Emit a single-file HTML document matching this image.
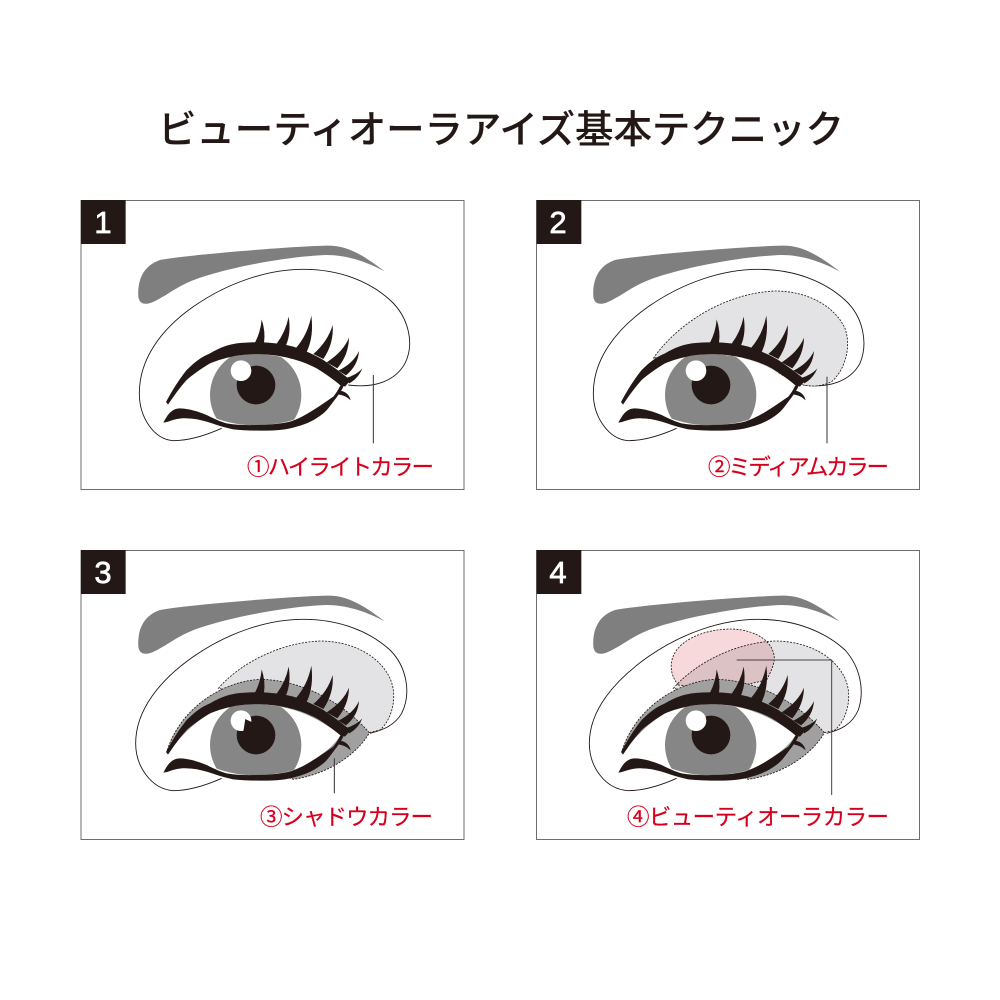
<!DOCTYPE html>
<html lang="ja"><head><meta charset="utf-8"><title>ビューティオーラアイズ基本テクニック</title>
<style>html,body{margin:0;padding:0;background:#fff}svg{display:block}
.t{font-family:"Liberation Sans","Noto Sans CJK JP",sans-serif}
.l{font-size:22.500px;fill:#d6001c;stroke:#d6001c;stroke-width:.2}.n{font-size:31px;fill:#fff;stroke:#fff;stroke-width:.7;text-anchor:middle}
</style></head><body>
<svg width="1000" height="1000" viewBox="0 0 1000 1000" xmlns="http://www.w3.org/2000/svg">
<defs>
<clipPath id="open"><path d="M260 613C300 560 340 520 390 490C440 465 500 462 550 463C640 470 710 500 782 555C760 590 730 610 700 630C650 665 590 675 530 675C480 678 430 665 380 645C340 630 320 625 300 625L250 668Z"/></clipPath>
<g id="brow"><path d="M175 290C172 240 190 197 240 180C320 165 620 140 740 137C800 135 850 165 915 215C860 185 800 165 740 165C640 168 480 195 370 230C300 252 270 280 240 295C215 310 180 325 175 290Z" fill="#7f7f7f"/></g>
<g id="eye">
<path d="M260 613C300 560 340 520 390 490C440 465 500 462 550 463C640 470 710 500 782 555C760 590 730 610 700 630C650 665 590 675 530 675C480 678 430 665 380 645C340 630 320 625 300 625L250 668Z" fill="#fff"/>
<g clip-path="url(#open)"><circle cx="527" cy="585" r="137" fill="#868686"/></g>
<circle cx="528" cy="555" r="58" fill="#231815"/>
<circle cx="483" cy="512" r="31" fill="#fff"/>
<g fill="#231815">
<path d="M258 606C280 565 300 535 320 510C345 485 365 470 390 460C420 442 445 434 470 430C500 427 525 426 550 427C585 429 615 433 640 440C675 452 705 465 730 480C755 497 780 515 805 535L790 560L780 555C760 538 735 520 710 505C685 492 660 482 630 475C605 468 575 464 550 463C520 462 495 463 470 467C440 473 415 480 390 490C365 505 340 522 320 540C300 562 280 590 264 614Z"/>
<path d="M770 515L812 540L795 560L778 552Z"/>
<path d="M250 668C260 650 272 625 300 625C330 626 355 635 380 645C400 655 420 665 440 670C470 675 500 676 530 675C565 675 600 672 630 665C655 657 680 643 700 630C725 615 745 600 760 590C770 578 776 566 782 555L790 560C785 572 778 580 770 592C755 610 745 628 730 640C705 660 680 672 650 680C620 690 585 692 550 692C520 692 490 691 460 688C430 682 405 673 380 665C360 659 340 655 320 655C300 654 285 658 270 663C262 666 256 667 250 668Z"/>
<path d="M525 428Q542 395 545 358Q557 395 552 428Z"/>
<path d="M590 431Q617 395 626 350Q634 400 618 436Z"/>
<path d="M647 445Q683 405 694 347Q702 410 680 456Z"/>
<path d="M700 462Q743 425 758 375Q762 430 730 477Z"/>
<path d="M740 487Q790 455 807 413Q806 465 772 505Z"/>
<path d="M775 512Q820 490 837 453Q834 497 798 526Z"/>
<path d="M795 535Q830 525 847 505Q835 535 808 550Z"/>
<path d="M778 572C798 574 808 585 812 601C800 590 790 585 773 583Z"/>
</g>
</g>
<path id="med" d="M355 475C420 380 560 280 720 273C820 273 900 320 930 385C950 440 930 510 890 545C860 560 830 560 805 555L780 540L520 440Z"/>
<path id="sh" d="M262 600C300 480 420 395 540 388C680 390 800 470 868 548C840 600 760 670 640 688L520 640Z"/>
</defs>

<text class="t" x="158" y="143" font-size="38.500" font-weight="500" fill="#231815" stroke="#231815" stroke-width=".12" textLength="686" lengthAdjust="spacing">ビューティオーラアイズ基本テクニック</text>

<g fill="#fff" stroke="#6e6e6e" stroke-width="1">
<rect x="81" y="200.500" width="383" height="289"/><rect x="536.500" y="200.500" width="383" height="289"/>
<rect x="81" y="550.500" width="383" height="289"/><rect x="536.500" y="550.500" width="383" height="289"/>
</g>

<!-- Panel 1 -->
<g transform="translate(80 200) scale(.33333)">
<rect x="3" y="0" width="134" height="132" fill="#231815"/>
<use href="#brow"/>
<path d="M425 685C380 705 330 722 280 722C220 718 178 650 178 580C178 480 240 390 340 320C440 250 560 208 670 208C780 208 870 245 930 300C985 350 1005 430 975 490C945 545 880 565 805 555" fill="none" stroke="#231815" stroke-width="2.700"/>
<use href="#eye"/>
<path d="M880 525V730" stroke="#333" stroke-width="3" fill="none"/>
</g>
<text class="t n" x="103" y="233">1</text>
<text class="t l" x="247" y="475" textLength="187" lengthAdjust="spacing">①ハイライトカラー</text>

<!-- Panel 2 -->
<g transform="translate(535 200) scale(.33333)">
<rect x="5" y="0" width="134" height="132" fill="#231815"/>
<use href="#brow"/>
<path d="M425 685C380 705 330 722 280 722C220 718 175 650 175 580C175 480 240 390 340 320C440 250 560 208 670 208C780 208 870 245 930 300C985 350 1000 430 975 490C945 545 880 565 805 555" fill="none" stroke="#231815" stroke-width="2.700"/>
<use href="#med" fill="#e3e3e5" stroke="#231815" stroke-width="2.500" stroke-dasharray="6 4"/>
<use href="#eye"/>
<path d="M876 530V730" stroke="#333" stroke-width="3" fill="none"/>
</g>
<text class="t n" x="558" y="233">2</text>
<text class="t l" x="708" y="475" textLength="181" lengthAdjust="spacing">②ミディアムカラー</text>

<!-- Panel 3 -->
<g transform="translate(80 550) scale(.33333)">
<rect x="3" y="0" width="134" height="132" fill="#231815"/>
<use href="#brow"/>
<path d="M425 685C380 705 330 722 280 722C215 718 167 650 167 580C167 480 240 390 340 320C440 250 560 208 670 208C780 208 870 245 930 300C980 350 995 430 965 490C945 525 910 540 870 550" fill="none" stroke="#231815" stroke-width="2.700"/>
<path d="M415 415C480 340 600 278 720 273C820 273 900 320 930 385C955 440 935 510 900 540L868 548L780 540L520 440Z" fill="#e3e3e5" stroke="#231815" stroke-width="2.500" stroke-dasharray="6 4"/>
<use href="#sh" fill="#a0a0a0" stroke="#231815" stroke-width="2.500" stroke-dasharray="6 4"/>
<use href="#eye"/>
<path d="M496 507L518 518L520 545L490 545Z" fill="#231815"/>
<path d="M763 625V730" stroke="#333" stroke-width="3" fill="none"/>
</g>
<text class="t n" x="103" y="583">3</text>
<text class="t l" x="260" y="825" textLength="173" lengthAdjust="spacing">③シャドウカラー</text>

<!-- Panel 4 -->
<g transform="translate(535 550) scale(.33333)">
<rect x="5" y="0" width="134" height="132" fill="#231815"/>
<use href="#brow"/>
<path d="M425 685C380 705 330 722 280 722C210 718 163 650 163 580C163 480 240 390 340 320C440 250 560 208 670 208C780 208 870 245 930 300C975 350 990 420 970 480C950 525 915 540 875 550" fill="none" stroke="#231815" stroke-width="2.700"/>
<path d="M415 415C480 340 600 278 720 273C820 273 900 320 930 385C955 440 935 510 900 540L868 548L780 540L520 440Z" fill="#e3e3e5" stroke="#231815" stroke-width="2.500" stroke-dasharray="6 4"/>
<path d="M430 405C405 375 400 335 425 300C460 255 530 237 590 237C670 240 720 280 718 330C715 350 705 370 695 390L560 420Z" fill="#f7d9dc" stroke="#231815" stroke-width="2.500" stroke-dasharray="6 4" style="mix-blend-mode:multiply"/>
<use href="#sh" fill="#a0a0a0" stroke="#231815" stroke-width="2.500" stroke-dasharray="6 4"/>
<use href="#eye"/>
<path d="M605 330H890V735" stroke="#444" stroke-width="3" fill="none"/>
</g>
<text class="t n" x="558" y="583">4</text>
<text class="t l" x="627" y="825" textLength="262" lengthAdjust="spacing">④ビューティオーラカラー</text>
</svg>
</body></html>
